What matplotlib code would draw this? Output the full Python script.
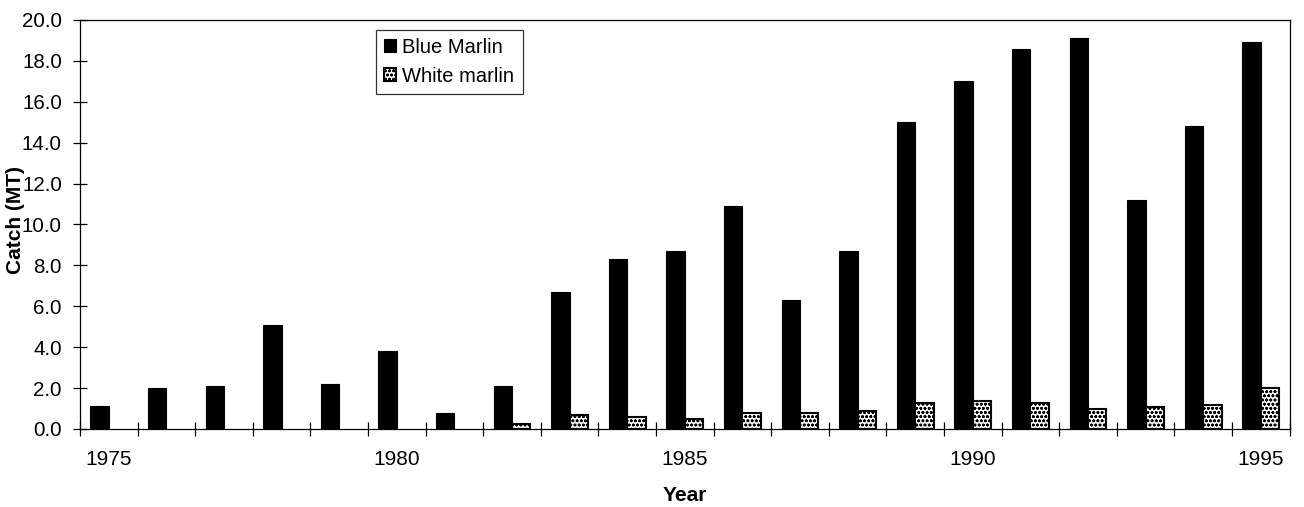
import numpy as np
import matplotlib.pyplot as plt
from matplotlib.ticker import FormatStrFormatter, FixedLocator

plt.rcParams['font.family'] = ['Liberation Sans', 'DejaVu Sans']
plt.rcParams['hatch.linewidth'] = 0.8

years = list(range(1975, 1996))
blue_marlin = [1.1, 2.0, 2.1, 5.1, 2.2, 3.8, 0.8, 2.1, 6.7, 8.3, 8.7,
               10.9, 6.3, 8.7, 15.0, 17.0, 18.6, 19.1, 11.2, 14.8, 18.9]
white_marlin = [0.0, 0.0, 0.0, 0.0, 0.0, 0.0, 0.0, 0.25, 0.7, 0.6, 0.5,
                0.8, 0.8, 0.9, 1.25, 1.35, 1.25, 0.95, 1.05, 1.15, 2.0]
year_labels = [1975, 1980, 1985, 1990, 1995]

fig = plt.figure(figsize=(13.04, 5.07), dpi=100)
ax = fig.add_axes([0.0613, 0.154, 0.9277, 0.8066])

x = np.arange(len(years))
w = 0.32
ax.bar(x - w/2, blue_marlin, w, color='black', edgecolor='black',
       linewidth=0.8, label='Blue Marlin')
# years with no white marlin catch get no bar outline
wm = np.array(white_marlin)
has = wm > 0
ax.bar(x[has] + w/2, wm[has], w, color='white', edgecolor='black',
       hatch='oooo', linewidth=1.5, label='White marlin')

ax.set_xlim(-0.5, len(years) - 0.5)
ax.set_ylim(0, 20)
ax.set_yticks(np.arange(0, 20.1, 2))
ax.yaxis.set_major_formatter(FormatStrFormatter('%.1f'))

# labels at category centers, tick marks at category boundaries
ax.set_xticks([years.index(y) for y in year_labels])
ax.set_xticklabels([str(y) for y in year_labels])
ax.xaxis.set_minor_locator(FixedLocator(np.arange(-0.5, len(years), 1)))
ax.tick_params(axis='x', which='major', length=0, pad=15, labelsize=15)
ax.tick_params(axis='x', which='minor', direction='inout', length=10, width=0.9)
ax.tick_params(axis='y', direction='inout', length=10, width=0.9, labelsize=14.8, pad=8)

for s in ax.spines.values():
    s.set_linewidth(0.9)

ax.set_xlabel('Year', fontsize=15, fontweight='bold')
ax.xaxis.set_label_coords(0.5, -0.14)
ax.set_ylabel('Catch (MT)', fontsize=15, fontweight='bold')
ax.yaxis.set_label_coords(-0.0455, 0.51)

leg = ax.legend(loc='upper left', bbox_to_anchor=(0.245, 0.976), fontsize=14.5,
                frameon=True, fancybox=False, edgecolor='black',
                handlelength=0.6, handleheight=0.6, handletextpad=0.3,
                borderpad=0.4, labelspacing=0.5, borderaxespad=0)
leg.get_frame().set_linewidth(0.9)

fig.savefig('out.png', dpi=100)
